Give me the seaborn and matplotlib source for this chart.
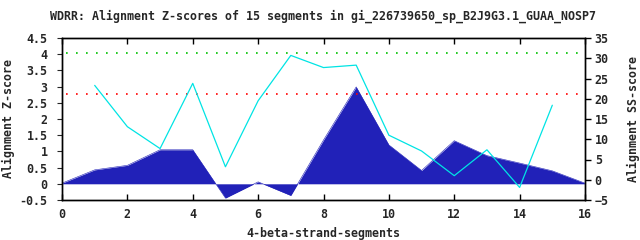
import matplotlib
matplotlib.use("Agg")
import matplotlib.pyplot as plt
import seaborn as sns
import numpy as np
import pandas as pd

segments = list(range(0, 17))
z_scores = [0.02, 0.43, 0.57, 1.05, 1.05, -0.44, 0.06, -0.36, 1.35, 2.99, 1.2, 0.41, 1.33, 0.87, 0.64, 0.40, 0.02]
ss_segments = list(range(1, 16))
ss_scores = [23.3, 13.1, 7.7, 23.8, 3.2, 19.5, 30.7, 27.7, 28.3, 11.0, 7.1, 1.0, 7.4, -1.9, 18.4]
green_level = 4.04
red_level = 2.78

title = "WDRR: Alignment Z-scores of 15 segments in gi_226739650_sp_B2J9G3.1_GUAA_NOSP7"

sns.set_style("white")
plt.rcParams['font.family'] = ['DejaVu Sans Mono', 'DejaVu Sans']
plt.rcParams['font.weight'] = 'bold'
FS = 8.4

fig = plt.figure(figsize=(6.4, 2.4), dpi=100)
ax = fig.add_axes([62/640, 1-200/240, (585-62)/640, (200-38)/240])

dfz = pd.DataFrame({"x": segments, "z": z_scores})
ax.fill_between(dfz["x"], 0, dfz["z"], color="#2121b8", linewidth=0, zorder=2)
sns.lineplot(data=dfz, x="x", y="z", ax=ax, color="#2121b8", linewidth=0.4, zorder=2)

ax.axhline(green_level, xmin=0.008, xmax=0.997, color="#00c000", linestyle=(0, (1, 5)), linewidth=1.2, zorder=3)
ax.axhline(red_level, xmin=0.008, xmax=0.997, color="#ff0000", linestyle=(0, (1, 5)), linewidth=1.2, zorder=3)

ax.set_xlim(0, 16)
ax.set_ylim(-0.5, 4.5)
ax.set_xticks(range(0, 17, 2))
ax.set_yticks(np.arange(-0.5, 4.51, 0.5))
ax.set_yticklabels(["-0.5", "0", "0.5", "1", "1.5", "2", "2.5", "3", "3.5", "4", "4.5"])
ax.tick_params(axis='x', direction='in', length=4, width=1, top=True, bottom=True, labelsize=FS, pad=6, color='black')
ax.tick_params(axis='y', left=False, labelsize=FS, pad=7)
ax.set_xlabel("4-beta-strand-segments", fontsize=FS, fontweight='bold', labelpad=4)
ax.set_ylabel("Alignment Z-score", fontsize=FS, fontweight='bold')
ax.yaxis.set_label_coords(-0.090, 0.5)
for s in ax.spines.values():
    s.set_color('black')
    s.set_linewidth(1)

ax2 = ax.twinx()
dfs = pd.DataFrame({"x": ss_segments, "ss": ss_scores})
sns.lineplot(data=dfs, x="x", y="ss", ax=ax2, color="#00e4e4", linewidth=0.9, zorder=4)
ax2.set_ylim(-5, 35)
ax2.set_yticks(range(-5, 36, 5))
ax2.tick_params(axis='y', direction='out', length=4, width=1, right=True, labelsize=FS, pad=3, color='black')
ax2.set_ylabel("Alignment SS-score", fontsize=FS, fontweight='bold')
ax2.yaxis.set_label_coords(1.080, 0.5)
ax2.set_xlabel("")
for s in ax2.spines.values():
    s.set_color('black')
    s.set_linewidth(1)
ax2.set_xlim(0, 16)

for lab in ax.get_xticklabels() + ax.get_yticklabels() + ax2.get_yticklabels():
    lab.set_fontweight('bold')

fig.text(323/640, 1-16/240, title, ha='center', va='center', fontsize=FS, fontweight='bold')

fig.savefig("out.png", dpi=100)
